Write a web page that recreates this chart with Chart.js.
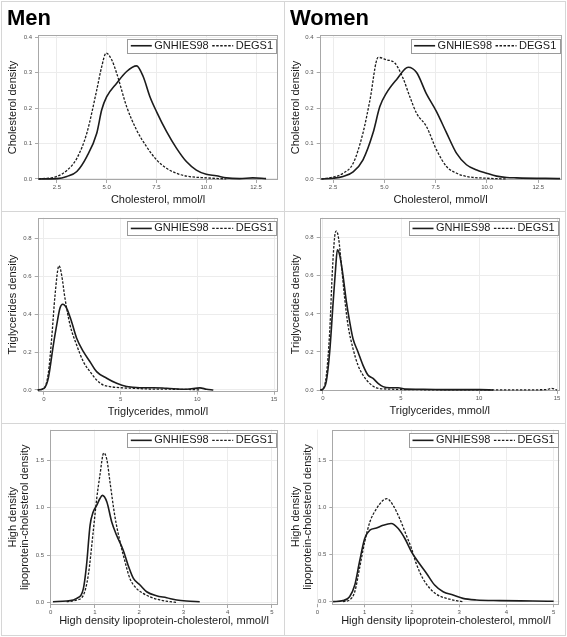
<!DOCTYPE html>
<html>
<head>
<meta charset="utf-8">
<script src="https://cdn.jsdelivr.net/npm/chart.js@4.4.0/dist/chart.umd.min.js"></script>
<style>
  body { margin: 0; background: #fff; }
  #wrap { position: relative; width: 567px; height: 637px; overflow: hidden; }
  #wrap canvas { position: absolute; }
  .rule { position: absolute; background: #d6d6d6; }
</style>
</head>
<body>
<div id="wrap">
  <canvas id="p1" width="284" height="211" style="left:0;top:0"></canvas>
  <canvas id="p2" width="283" height="211" style="left:284px;top:0"></canvas>
  <canvas id="p3" width="284" height="212" style="left:0;top:211px"></canvas>
  <canvas id="p4" width="283" height="212" style="left:284px;top:211px"></canvas>
  <canvas id="p5" width="284" height="214" style="left:0;top:423px"></canvas>
  <canvas id="p6" width="283" height="214" style="left:284px;top:423px"></canvas>
  <div class="rule" style="left:1px;top:1px;width:565px;height:1px"></div>
  <div class="rule" style="left:1px;top:635px;width:565px;height:1px"></div>
  <div class="rule" style="left:1px;top:1px;width:1px;height:635px"></div>
  <div class="rule" style="left:565px;top:1px;width:1px;height:635px"></div>
  <div class="rule" style="left:284px;top:1px;width:1px;height:635px"></div>
  <div class="rule" style="left:1px;top:211px;width:565px;height:1px"></div>
  <div class="rule" style="left:1px;top:423px;width:565px;height:1px"></div>
</div>
<script>
const FONT = "'Liberation Sans', Arial, sans-serif";

// tick values
const cholTicksX = [2.5, 5, 7.5, 10, 12.5];
const cholTicksY = [0, 0.1, 0.2, 0.3, 0.4];
const trigTicksX = [0, 5, 10, 15];
const trigTicksY = [0, 0.2, 0.4, 0.6, 0.8];
const hdlTicksX = [0, 1, 2, 3, 4, 5];
const hdlTicksY = [0, 0.5, 1.0, 1.5];

// Men, cholesterol
const menCholGnhiesX = [1.58, 2.5, 3.0, 3.5, 4.0, 4.5, 4.75, 5.0, 5.5, 6.0, 6.5, 6.83, 7.17, 7.5, 8.0, 8.5, 9.0, 9.5, 10.0, 10.5, 11.0, 11.67, 12.33, 13.0];
const menCholGnhiesY = [0, 0.001, 0.007, 0.021, 0.063, 0.129, 0.195, 0.232, 0.27, 0.303, 0.319, 0.289, 0.232, 0.19, 0.134, 0.087, 0.049, 0.025, 0.013, 0.009, 0.003, 0.001, 0.003, 0.001];
const menCholDegsX = [1.58, 2.5, 3.0, 3.5, 4.0, 4.5, 4.75, 4.97, 5.25, 5.5, 6.0, 6.5, 7.0, 7.5, 8.0, 8.5, 9.0, 10.0, 11.0];
const menCholDegsY = [0, 0.007, 0.024, 0.058, 0.129, 0.251, 0.317, 0.355, 0.336, 0.298, 0.204, 0.138, 0.091, 0.054, 0.03, 0.016, 0.008, 0.003, 0];

// Women, cholesterol
const womCholGnhiesX = [1.93, 2.5, 2.99, 3.48, 3.96, 4.45, 4.78, 5.1, 5.59, 6.16, 6.57, 7.05, 7.54, 8.03, 8.52, 9.0, 9.5, 9.98, 10.47, 10.96, 11.44, 13.56];
const womCholGnhiesY = [0, 0.002, 0.007, 0.02, 0.054, 0.13, 0.204, 0.242, 0.28, 0.315, 0.3, 0.24, 0.19, 0.13, 0.072, 0.04, 0.025, 0.016, 0.008, 0.004, 0.003, 0.001];
const womCholDegsX = [1.93, 2.5, 2.99, 3.48, 3.96, 4.29, 4.7, 5.1, 5.51, 5.91, 6.24, 6.57, 7.05, 7.54, 8.03, 8.52, 9.0, 9.98, 10.96];
const womCholDegsY = [0, 0.005, 0.016, 0.044, 0.13, 0.22, 0.343, 0.336, 0.327, 0.284, 0.232, 0.185, 0.148, 0.082, 0.035, 0.016, 0.007, 0.002, 0];

// Men, triglycerides
const menTrigGnhiesX = [-0.48, 0, 0.28, 0.61, 0.83, 1.04, 1.22, 1.48, 1.8, 2.13, 2.57, 3.0, 3.43, 4.09, 4.74, 5.39, 6.26, 7.13, 8.0, 9.3, 10.17, 10.6, 11.04];
const menTrigGnhiesY = [0, 0.009, 0.062, 0.237, 0.343, 0.431, 0.452, 0.431, 0.36, 0.273, 0.202, 0.149, 0.097, 0.062, 0.035, 0.018, 0.012, 0.012, 0.009, 0.004, 0.011, 0.004, 0];
const menTrigDegsX = [-0.48, 0, 0.28, 0.5, 0.72, 0.98, 1.15, 1.37, 1.7, 2.13, 2.57, 3.0, 3.43, 3.87, 4.3, 4.96, 5.83, 6.9, 8.43, 9.74, 10.17];
const menTrigDegsY = [0, 0.009, 0.088, 0.272, 0.5, 0.656, 0.607, 0.483, 0.343, 0.237, 0.149, 0.097, 0.053, 0.026, 0.018, 0.012, 0.009, 0.005, 0.004, 0.002, 0];

// Women, triglycerides
const womTrigGnhiesX = [-0.17, 0, 0.21, 0.43, 0.64, 0.81, 0.92, 1.07, 1.28, 1.5, 1.71, 1.92, 2.24, 2.56, 2.88, 3.21, 3.53, 3.85, 4.27, 4.81, 5.34, 6.41, 8.12, 10.04, 10.9];
const womTrigGnhiesY = [0, 0.005, 0.044, 0.2, 0.447, 0.639, 0.736, 0.709, 0.604, 0.464, 0.359, 0.271, 0.201, 0.131, 0.079, 0.061, 0.035, 0.018, 0.012, 0.012, 0.005, 0.004, 0.002, 0.002, 0];
const womTrigDegsX = [-0.17, 0, 0.21, 0.43, 0.6, 0.75, 0.85, 1.0, 1.18, 1.39, 1.6, 1.92, 2.24, 2.56, 2.99, 3.42, 4.27, 5.98, 8.12, 12.39, 14.32, 14.64, 15.0];
const womTrigDegsY = [0, 0.005, 0.074, 0.306, 0.622, 0.805, 0.835, 0.797, 0.657, 0.482, 0.342, 0.219, 0.131, 0.079, 0.035, 0.012, 0.005, 0.002, 0.001, 0.001, 0.002, 0.009, 0];

// Men, HDL cholesterol
const menHdlGnhiesX = [0.05, 0.36, 0.59, 0.74, 0.81, 0.89, 0.96, 1.04, 1.11, 1.17, 1.27, 1.38, 1.49, 1.64, 1.75, 1.87, 2.02, 2.17, 2.39, 2.62, 2.85, 3.07, 3.37];
const menHdlGnhiesY = [0.007, 0.014, 0.042, 0.148, 0.393, 0.815, 0.955, 1.026, 1.096, 1.131, 1.061, 0.85, 0.71, 0.551, 0.393, 0.253, 0.183, 0.112, 0.07, 0.049, 0.025, 0.014, 0.007];
const menHdlDegsX = [0.36, 0.59, 0.74, 0.85, 0.96, 1.04, 1.11, 1.2, 1.27, 1.34, 1.45, 1.57, 1.68, 1.79, 1.94, 2.09, 2.24, 2.47, 2.7, 2.85];
const menHdlDegsY = [0.007, 0.025, 0.077, 0.288, 0.743, 1.096, 1.335, 1.58, 1.51, 1.275, 0.913, 0.636, 0.43, 0.253, 0.147, 0.095, 0.06, 0.025, 0.007, 0];

// Women, HDL cholesterol
const womHdlGnhiesX = [0.33, 0.54, 0.68, 0.79, 0.89, 1.0, 1.11, 1.25, 1.39, 1.56, 1.71, 1.85, 1.99, 2.13, 2.31, 2.48, 2.66, 2.87, 3.08, 3.36, 3.86, 4.56, 5.0];
const womHdlGnhiesY = [0, 0.011, 0.053, 0.177, 0.424, 0.671, 0.76, 0.783, 0.812, 0.83, 0.777, 0.671, 0.53, 0.424, 0.3, 0.177, 0.106, 0.071, 0.035, 0.018, 0.011, 0.007, 0.004];
const womHdlDegsX = [0.54, 0.68, 0.79, 0.89, 1.0, 1.11, 1.25, 1.39, 1.47, 1.6, 1.74, 1.88, 1.99, 2.09, 2.23, 2.38, 2.52, 2.73, 2.94, 3.08];
const womHdlDegsY = [0, 0.018, 0.106, 0.353, 0.635, 0.847, 0.988, 1.077, 1.094, 1.024, 0.883, 0.706, 0.565, 0.406, 0.247, 0.141, 0.078, 0.035, 0.011, 0];

const pts = (xs, ys) => xs.map((x, i) => ({ x, y: ys[i] }));

// grey frame round the plot area
const framePlugin = {
  id: "frame",
  beforeDatasetsDraw(chart) {
    const { ctx, chartArea: a } = chart;
    ctx.save();
    ctx.strokeStyle = "#a8a8a8";
    ctx.lineWidth = 1;
    ctx.strokeRect(Math.round(a.left) + 0.5, Math.round(a.top) + 0.5,
      Math.round(a.right - a.left) - 1, Math.round(a.bottom - a.top) - 1);
    ctx.restore();
  },
};

// boxed legend in the top right corner of the plot
const boxLegend = {
  id: "boxLegend",
  afterDatasetsDraw(chart) {
    const { ctx, chartArea: a } = chart;
    const sets = chart.data.datasets;
    const lineLen = 21, gap = 2.5, sep = 3.5, pad = 3.5, h = 13.5;
    ctx.save();
    ctx.font = `11px ${FONT}`;
    let w = pad * 2;
    sets.forEach((d, i) => {
      w += lineLen + gap + ctx.measureText(d.label).width + (i ? sep : 0);
    });
    const top = a.top + 3.5;
    let x = a.right - 1.5 - w;
    ctx.fillStyle = "#fff";
    ctx.fillRect(x, top, w, h);
    ctx.strokeStyle = "#9a9a9a";
    ctx.lineWidth = 1;
    ctx.strokeRect(Math.round(x) + 0.5, Math.round(top) + 0.5, Math.round(w), Math.round(h));
    const cy = top + h / 2 + 0.5;
    x += pad;
    sets.forEach((d, i) => {
      if (i) x += sep;
      ctx.beginPath();
      ctx.setLineDash(d.borderDash || []);
      ctx.lineWidth = d.borderWidth;
      ctx.strokeStyle = d.borderColor;
      ctx.moveTo(x, cy);
      ctx.lineTo(x + lineLen, cy);
      ctx.stroke();
      ctx.setLineDash([]);
      x += lineLen + gap;
      ctx.fillStyle = "#1a1a1a";
      ctx.textBaseline = "middle";
      ctx.fillText(d.label, x, cy);
      x += ctx.measureText(d.label).width;
    });
    ctx.restore();
  },
};

const makePanel = (id, p) => {
  const canvas = document.getElementById(id);
  const W = canvas.width, H = canvas.height;
  const yLines = Array.isArray(p.yTitle) ? p.yTitle.length : 1;
  const yLH = yLines > 1 ? 1.08 : 1.2;
  const plugins = {
    legend: { display: false },
    tooltip: { enabled: false },
    title: { display: false },
  };
  let padTop = p.top;
  if (p.heading) {
    plugins.title = {
      display: true,
      text: p.heading,
      align: "start",
      color: "#000",
      font: { family: FONT, size: 22, weight: "bold", lineHeight: 1.2 },
      padding: { top: 6, bottom: p.top - 6 - 26.4 },
    };
    padTop = 0;
  }
  return new Chart(canvas, {
    type: "line",
    data: {
      datasets: [
        {
          label: "GNHIES98",
          data: pts(p.gx, p.gy),
          borderColor: "#1c1c1c",
          borderWidth: 1.6,
          pointRadius: 0,
          cubicInterpolationMode: "monotone",
          fill: false,
        },
        {
          label: "DEGS1",
          data: pts(p.dx, p.dy),
          borderColor: "#1c1c1c",
          borderWidth: 1.3,
          borderDash: [2.5, 1.5],
          pointRadius: 0,
          cubicInterpolationMode: "monotone",
          fill: false,
        },
      ],
    },
    options: {
      responsive: false,
      animation: false,
      events: [],
      layout: { padding: { left: p.padLeft, top: padTop, right: W - p.right, bottom: 0 } },
      plugins,
      scales: {
        x: {
          type: "linear",
          min: p.xMin,
          max: p.xMax,
          afterBuildTicks: (s) => { s.ticks = p.xTicks.map((v) => ({ value: v })); },
          afterFit: (s) => { s.height = H - p.bottom; },
          ticks: {
            autoSkip: false,
            maxRotation: 0,
            padding: 1,
            color: "#555",
            font: { family: FONT, size: 6 },
            callback: (v) => v.toFixed(p.xDec),
          },
          grid: { color: "#ececec", tickColor: "#a8a8a8", tickLength: 3 },
          border: { display: false },
          title: {
            display: true,
            text: p.xTitle,
            color: "#1a1a1a",
            font: { family: FONT, size: 11, lineHeight: 1.2 },
            padding: { top: 0, bottom: H - p.xTitleY - 6.6 },
          },
        },
        y: {
          type: "linear",
          min: p.yMin,
          max: p.yMax,
          afterBuildTicks: (s) => { s.ticks = p.yTicks.map((v) => ({ value: v })); },
          afterFit: (s) => { s.width = p.left - p.padLeft; },
          ticks: {
            padding: 3,
            color: "#555",
            font: { family: FONT, size: 6 },
            callback: (v) => v.toFixed(1),
          },
          grid: { color: "#ececec", tickColor: "#a8a8a8", tickLength: 3 },
          border: { display: false },
          title: {
            display: true,
            text: p.yTitle,
            color: "#1a1a1a",
            font: { family: FONT, size: 11, lineHeight: yLH },
            padding: { top: p.yTitleX - p.padLeft - (11 * yLH) / 2, bottom: 0 },
          },
        },
      },
    },
    plugins: [framePlugin, boxLegend],
  });
};

makePanel("p1", {
  heading: "Men", padLeft: 7, left: 38, top: 35, right: 278, bottom: 180,
  xMin: 1.55, xMax: 13.6, yMin: -0.003, yMax: 0.406, xTicks: cholTicksX, yTicks: cholTicksY, xDec: 1,
  xTitle: "Cholesterol, mmol/l", yTitle: "Cholesterol density", xTitleY: 200, yTitleX: 12.7,
  gx: menCholGnhiesX, gy: menCholGnhiesY, dx: menCholDegsX, dy: menCholDegsY,
});
makePanel("p2", {
  heading: "Women", padLeft: 6, left: 35.7, top: 35, right: 277.3, bottom: 180,
  xMin: 1.85, xMax: 13.62, yMin: -0.003, yMax: 0.406, xTicks: cholTicksX, yTicks: cholTicksY, xDec: 1,
  xTitle: "Cholesterol, mmol/l", yTitle: "Cholesterol density", xTitleY: 200, yTitleX: 11.7,
  gx: womCholGnhiesX, gy: womCholGnhiesY, dx: womCholDegsX, dy: womCholDegsY,
});
makePanel("p3", {
  padLeft: 0, left: 37.7, top: 6.7, right: 278, bottom: 180.7,
  xMin: -0.41, xMax: 15.26, yMin: -0.009, yMax: 0.909, xTicks: trigTicksX, yTicks: trigTicksY, xDec: 0,
  xTitle: "Triglycerides, mmol/l", yTitle: "Triglycerides density", xTitleY: 200.7, yTitleX: 12.7,
  gx: menTrigGnhiesX, gy: menTrigGnhiesY, dx: menTrigDegsX, dy: menTrigDegsY,
});
makePanel("p4", {
  padLeft: 0, left: 35.7, top: 6.7, right: 275.7, bottom: 180,
  xMin: -0.21, xMax: 15.17, yMin: -0.005, yMax: 0.905, xTicks: trigTicksX, yTicks: trigTicksY, xDec: 0,
  xTitle: "Triglycerides, mmol/l", yTitle: "Triglycerides density", xTitleY: 200, yTitleX: 11.7,
  gx: womTrigGnhiesX, gy: womTrigGnhiesY, dx: womTrigDegsX, dy: womTrigDegsY,
});
makePanel("p5", {
  padLeft: 0, left: 50, top: 6, right: 278, bottom: 182,
  xMin: -0.016, xMax: 5.14, yMin: -0.028, yMax: 1.827, xTicks: hdlTicksX, yTicks: hdlTicksY, xDec: 0,
  xTitle: "High density lipoprotein-cholesterol, mmol/l",
  yTitle: ["High density", "lipoprotein-cholesterol density"], xTitleY: 197.5, yTitleX: 13.3,
  gx: menHdlGnhiesX, gy: menHdlGnhiesY, dx: menHdlDegsX, dy: menHdlDegsY,
});
makePanel("p6", {
  padLeft: 0, left: 48.3, top: 6, right: 275.7, bottom: 181.3,
  xMin: 0.314, xMax: 5.128, yMin: -0.028, yMax: 1.828, xTicks: hdlTicksX, yTicks: hdlTicksY, xDec: 0,
  xTitle: "High density lipoprotein-cholesterol, mmol/l",
  yTitle: ["High density", "lipoprotein-cholesterol density"], xTitleY: 197.5, yTitleX: 12.3,
  gx: womHdlGnhiesX, gy: womHdlGnhiesY, dx: womHdlDegsX, dy: womHdlDegsY,
});
</script>
</body>
</html>
